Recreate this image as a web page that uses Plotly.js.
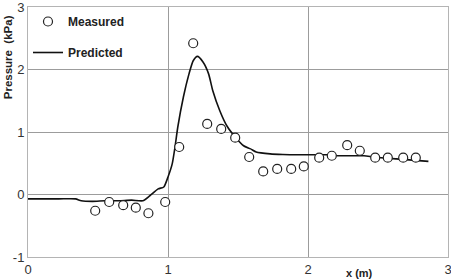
<!DOCTYPE html>
<html>
<head>
<meta charset="utf-8">
<script src="https://cdn.plot.ly/plotly-3.0.1.min.js"></script>
<style>html,body{margin:0;padding:0;background:#fff;}#chart{width:451px;height:280px;}</style>
</head>
<body>
<div id="chart"></div>
<script>
// Measured points
const measuredX = [0.48,0.58,0.68,0.77,0.86,0.98,1.08,1.18,1.28,1.38,1.48,1.58,1.68,1.78,1.88,1.97,2.08,2.17,2.28,2.37,2.48,2.57,2.68,2.77];
const measuredY = [-0.26,-0.12,-0.17,-0.21,-0.30,-0.12,0.76,2.42,1.13,1.05,0.91,0.60,0.37,0.41,0.41,0.45,0.59,0.62,0.79,0.70,0.59,0.59,0.59,0.59];
// Predicted curve
const predictedX = [0.0,0.22,0.34,0.38,0.46,0.55,0.65,0.74,0.82,0.87,0.93,0.97,1.0,1.03,1.05,1.07,1.11,1.15,1.18,1.21,1.25,1.29,1.32,1.37,1.42,1.48,1.54,1.59,1.63,1.73,1.82,1.92,2.01,2.16,2.21,2.40,2.47,2.63,2.86];
const predictedY = [-0.07,-0.07,-0.07,-0.10,-0.11,-0.10,-0.10,-0.09,-0.10,-0.02,0.09,0.12,0.28,0.49,0.76,1.08,1.56,1.93,2.14,2.21,2.12,1.93,1.66,1.34,1.10,0.92,0.78,0.73,0.68,0.65,0.64,0.635,0.635,0.635,0.62,0.62,0.60,0.57,0.53];
const xTicks = [0,1,2,3];
const yTicks = [-1,0,1,2,3];
const legendNames = ["Measured","Predicted"];
const yTitle = "Pressure  (kPa)";
const xTitle = "x (m)";

const traces = [
  {x: predictedX, y: predictedY, type: 'scatter', mode: 'lines', name: legendNames[1],
   legendgroup: 'b', legendrank: 2, line: {color: '#111', width: 1.6, shape: 'spline', smoothing: 0.6}},
  {x: measuredX, y: measuredY, type: 'scatter', mode: 'markers', name: legendNames[0],
   legendgroup: 'a', legendrank: 1, marker: {symbol: 'circle', size: 9, color: '#fff', line: {color: '#222', width: 1.2}}}
];

const layout = {
  width: 451, height: 280,
  margin: {l: 28, r: 3, t: 7, b: 23},
  paper_bgcolor: '#fff', plot_bgcolor: '#fff',
  font: {family: 'Liberation Sans, Arial, sans-serif', size: 13, color: '#333'},
  showlegend: true,
  legend: {x: 0.0, xref: 'paper', y: 1.0, yanchor: 'top', xanchor: 'left',
           bgcolor: 'rgba(0,0,0,0)', traceorder: 'grouped', tracegroupgap: 12,
           font: {family: 'Liberation Sans, Arial, sans-serif', size: 12, color: '#222', weight: 'bold'}},
  xaxis: {range: [0, 3], tickvals: xTicks, ticktext: xTicks.map(String), showgrid: true, gridcolor: '#9c9c9c', gridwidth: 1,
          zeroline: false, showline: true, mirror: true, linecolor: '#b4b4b4', linewidth: 1, ticks: '',
          ticklabeloverflow: 'allow', tickfont: {size: 13, color: '#333'}},
  yaxis: {range: [-1, 3], tickvals: yTicks, ticktext: yTicks.map(String), showgrid: true, gridcolor: '#9c9c9c', gridwidth: 1,
          zeroline: false, showline: true, mirror: true, linecolor: '#b4b4b4', linewidth: 1, ticks: '',
          ticklabeloverflow: 'allow', tickfont: {size: 13, color: '#333'}},
  annotations: [
    {text: '<b>' + yTitle + '</b>', xref: 'paper', yref: 'paper', x: -0.047, y: 0.80, xanchor: 'center', yanchor: 'middle',
     textangle: -90, showarrow: false, font: {size: 11.5, color: '#222'}},
    {text: '<b>' + xTitle + '</b>', xref: 'paper', yref: 'paper', x: 0.79, y: -0.062, xanchor: 'center', yanchor: 'middle',
     showarrow: false, font: {size: 11, color: '#222'}}
  ]
};

Plotly.newPlot('chart', traces, layout, {displayModeBar: false, staticPlot: true});
</script>
</body>
</html>
